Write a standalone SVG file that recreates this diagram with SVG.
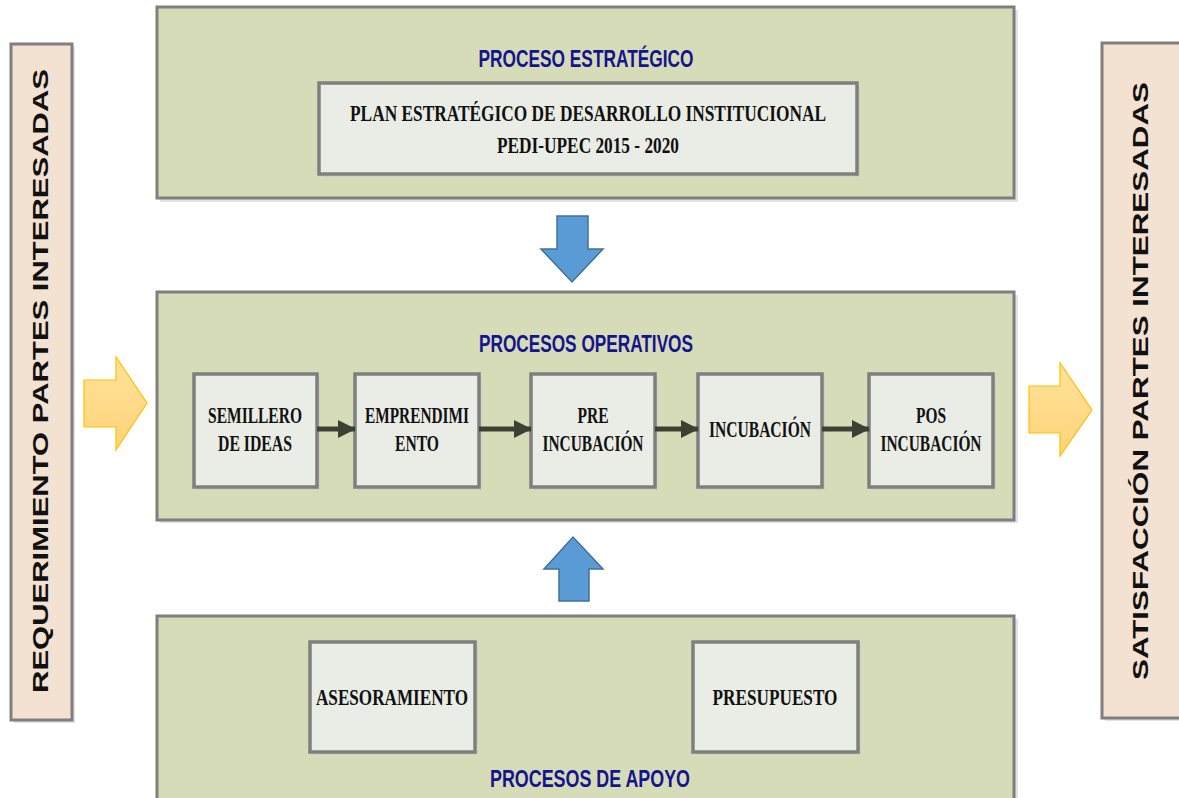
<svg xmlns="http://www.w3.org/2000/svg" width="1179" height="798" viewBox="0 0 1179 798">
<defs>
<style>
.shadow{fill:#c8c8c8;opacity:0.5}
.side{fill:#f3e1d1;stroke:#7f7f7f;stroke-width:3}
.panel{fill:#d6dcb7;stroke:#7f7f7f;stroke-width:3}
.box{fill:#eaece6;stroke:#7f7f7f;stroke-width:3.5}
.title{font-family:"Liberation Sans",Arial,sans-serif;font-weight:bold;font-size:23px;fill:#14148f;text-anchor:middle}
.lbl{font-family:"Liberation Serif","Times New Roman",serif;font-weight:bold;font-size:23px;fill:#111;text-anchor:middle}
.vert{font-family:"Liberation Sans",Arial,sans-serif;font-weight:bold;font-size:22px;fill:#111;text-anchor:middle}
.yarrow{fill:url(#yg);stroke:#ffc000;stroke-width:1.2}
.barrow{fill:#5b9bd5;stroke:#41719c;stroke-width:1.5}
.conn{stroke:#3c4233;stroke-width:5;fill:none;marker-end:url(#ah)}
</style>
<linearGradient id="yg" x1="0" y1="0" x2="0" y2="1">
<stop offset="0" stop-color="#ffe39a"/>
<stop offset="1" stop-color="#ffd27a"/>
</linearGradient>
<marker id="ah" viewBox="0 0 10 10" refX="9.5" refY="5" markerWidth="3.6" markerHeight="3.8" markerUnits="strokeWidth" orient="auto">
<path d="M0,0 L10,5 L0,10 Z" fill="#3c4233"/>
</marker>
</defs>

<g id="requerimiento">
<rect class="shadow" x="14" y="47" width="61" height="676"/>
<rect class="side" x="11" y="44" width="61" height="676"/>
<text class="vert" transform="translate(48,381) rotate(-90)" textLength="624" lengthAdjust="spacingAndGlyphs">REQUERIMIENTO PARTES INTERESADAS</text>
</g>

<g id="satisfaccion">
<rect class="shadow" x="1105" y="46" width="80" height="675"/>
<rect class="side" x="1102" y="43" width="80" height="675"/>
<text class="vert" transform="translate(1148,381) rotate(-90)" textLength="598" lengthAdjust="spacingAndGlyphs">SATISFACCIÓN PARTES INTERESADAS</text>
</g>

<g id="proceso-estrategico">
<rect class="shadow" x="160" y="10" width="858" height="192"/>
<rect class="panel" x="157" y="7" width="857" height="191"/>
<text class="title" x="586" y="67" textLength="215" lengthAdjust="spacingAndGlyphs">PROCESO ESTRATÉGICO</text>
</g>

<g id="plan-estrategico">
<rect class="shadow" x="322" y="86" width="538" height="91"/>
<rect class="box" x="319" y="83" width="538" height="91"/>
<text class="lbl" x="588" y="121" textLength="476" lengthAdjust="spacingAndGlyphs">PLAN ESTRATÉGICO DE DESARROLLO INSTITUCIONAL</text>
<text class="lbl" x="588" y="153" textLength="182" lengthAdjust="spacingAndGlyphs">PEDI-UPEC 2015 - 2020</text>
</g>

<g id="procesos-operativos">
<rect class="shadow" x="160" y="295" width="858" height="228"/>
<rect class="panel" x="157" y="292" width="857" height="228"/>
<text class="title" x="586" y="352" textLength="214" lengthAdjust="spacingAndGlyphs">PROCESOS OPERATIVOS</text>
</g>

<g id="semillero">
<rect class="shadow" x="197" y="377" width="123" height="113"/>
<rect class="box" x="194" y="374" width="123" height="113"/>
<text class="lbl" x="255" y="423" textLength="94" lengthAdjust="spacingAndGlyphs">SEMILLERO</text>
<text class="lbl" x="255" y="451" textLength="74" lengthAdjust="spacingAndGlyphs">DE IDEAS</text>
</g>

<g id="emprendimiento">
<rect class="shadow" x="358" y="377" width="124" height="113"/>
<rect class="box" x="355" y="374" width="124" height="113"/>
<text class="lbl" x="417" y="423" textLength="104" lengthAdjust="spacingAndGlyphs">EMPRENDIMI</text>
<text class="lbl" x="417" y="451" textLength="44" lengthAdjust="spacingAndGlyphs">ENTO</text>
</g>

<g id="pre-incubacion">
<rect class="shadow" x="534" y="377" width="124" height="113"/>
<rect class="box" x="531" y="374" width="124" height="113"/>
<text class="lbl" x="593" y="423" textLength="31" lengthAdjust="spacingAndGlyphs">PRE</text>
<text class="lbl" x="593" y="451" textLength="101" lengthAdjust="spacingAndGlyphs">INCUBACIÓN</text>
</g>

<g id="incubacion">
<rect class="shadow" x="701" y="377" width="124" height="113"/>
<rect class="box" x="698" y="374" width="124" height="113"/>
<text class="lbl" x="760" y="437" textLength="102" lengthAdjust="spacingAndGlyphs">INCUBACIÓN</text>
</g>

<g id="pos-incubacion">
<rect class="shadow" x="872" y="377" width="124" height="113"/>
<rect class="box" x="869" y="374" width="124" height="113"/>
<text class="lbl" x="931" y="423" textLength="30" lengthAdjust="spacingAndGlyphs">POS</text>
<text class="lbl" x="931" y="451" textLength="101" lengthAdjust="spacingAndGlyphs">INCUBACIÓN</text>
</g>

<g id="procesos-apoyo">
<rect class="shadow" x="160" y="619" width="858" height="200"/>
<rect class="panel" x="157" y="616" width="857" height="200"/>
<text class="title" x="590" y="787" textLength="200" lengthAdjust="spacingAndGlyphs">PROCESOS DE APOYO</text>
</g>

<g id="asesoramiento">
<rect class="shadow" x="313" y="645" width="165" height="110"/>
<rect class="box" x="310" y="642" width="165" height="110"/>
<text class="lbl" x="392" y="705" textLength="152" lengthAdjust="spacingAndGlyphs">ASESORAMIENTO</text>
</g>

<g id="presupuesto">
<rect class="shadow" x="696" y="645" width="165" height="110"/>
<rect class="box" x="693" y="642" width="165" height="110"/>
<text class="lbl" x="775" y="705" textLength="125" lengthAdjust="spacingAndGlyphs">PRESUPUESTO</text>
</g>

<g id="connectors">
<path class="conn" d="M317,429 L355,429"/>
<path class="conn" d="M479,429 L531,429"/>
<path class="conn" d="M655,429 L698,429"/>
<path class="conn" d="M822,429 L869,429"/>
<path class="barrow" d="M557,216 L588,216 L588,249 L603,249 L572,282 L541,249 L557,249 Z"/>
<path class="barrow" d="M559,601 L589,601 L589,569 L603,569 L573,537 L544,569 L559,569 Z"/>
<path class="yarrow" d="M84,380 L116,380 L116,357 L147,403 L116,450 L116,427 L84,427 Z"/>
<path class="yarrow" d="M1029,386 L1060,386 L1060,363 L1092,410 L1060,456 L1060,433 L1029,433 Z"/>
</g>
</svg>
